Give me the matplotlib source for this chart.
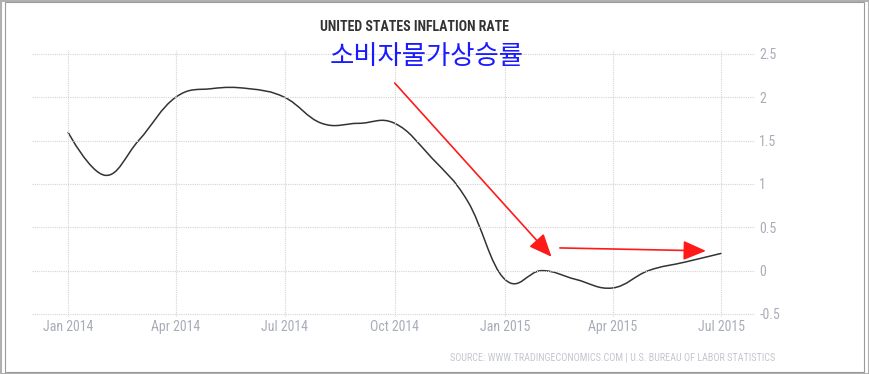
import matplotlib
matplotlib.use("Agg")
import matplotlib.pyplot as plt
import matplotlib.dates as mdates
from matplotlib.path import Path
from matplotlib.patches import PathPatch, Rectangle
from matplotlib import font_manager
import pandas as pd

# monthly US CPI inflation, Jan 2014 - Jul 2015
months = pd.date_range("2014-01-01", "2015-07-01", freq="MS")
inflation = [1.6, 1.1, 1.5, 2.0, 2.1, 2.1, 2.0, 1.7, 1.7, 1.7, 1.3, 0.8,
             -0.1, 0.0, -0.1, -0.2, 0.0, 0.1, 0.2]

tick_dates = pd.to_datetime(["2014-01-01", "2014-04-01", "2014-07-01", "2014-10-01",
                             "2015-01-01", "2015-04-01", "2015-07-01"])
tick_labels = ["Jan 2014", "Apr 2014", "Jul 2014", "Oct 2014",
               "Jan 2015", "Apr 2015", "Jul 2015"]
y_ticks = [-0.5, 0, 0.5, 1, 1.5, 2, 2.5]
y_labels = ["-0.5", "0", "0.5", "1", "1.5", "2", "2.5"]

title = "UNITED STATES INFLATION RATE"
note = "소비자물가상승률"
source = "SOURCE: WWW.TRADINGECONOMICS.COM | U.S. BUREAU OF LABOR STATISTICS"

# arrows drawn on the chart: (start date, start y) -> (end date, end y)
arrows = [
    (("2014-10-01", 2.165), ("2015-02-09", 0.16)),
    (("2015-02-16", 0.262), ("2015-06-18", 0.228)),
]

# pick a narrow font if one is installed
installed = {f.name for f in font_manager.fontManager.ttflist}
narrow = [f for f in ["Liberation Sans Narrow", "DejaVu Sans Condensed", "Roboto Condensed",
                      "Open Sans Condensed"] if f in installed] + ["DejaVu Sans"]
stretch = "normal" if narrow[0] != "DejaVu Sans" else "condensed"
grey = "#a9adb8"


def spline_path(xs, ys, smoothing=1.5):
    # spline through the points, bezier control points from neighbours
    denom = smoothing + 1
    n = len(xs)
    left = [None] * n
    right = [None] * n
    for i in range(1, n - 1):
        px, py = xs[i], ys[i]
        lx, ly = xs[i - 1], ys[i - 1]
        nx, ny = xs[i + 1], ys[i + 1]
        lcx = (smoothing * px + lx) / denom
        lcy = (smoothing * py + ly) / denom
        rcx = (smoothing * px + nx) / denom
        rcy = (smoothing * py + ny) / denom
        corr = (rcy - lcy) * (rcx - px) / (rcx - lcx) + py - rcy
        left[i] = (lcx, lcy + corr)
        right[i] = (rcx, rcy + corr)
    verts = [(xs[0], ys[0])]
    codes = [Path.MOVETO]
    for i in range(1, n):
        c1 = right[i - 1] if right[i - 1] else (xs[i - 1], ys[i - 1])
        c2 = left[i] if left[i] else (xs[i], ys[i])
        verts += [c1, c2, (xs[i], ys[i])]
        codes += [Path.CURVE4] * 3
    return Path(verts, codes)


fig = plt.figure(figsize=(8.69, 3.74), dpi=100)
ax = fig.add_axes([32 / 869, 1 - 317 / 374, 723 / 869, 267 / 374])

xs = mdates.date2num(months)
ax.add_patch(PathPatch(spline_path(list(xs), inflation), fill=False,
                       edgecolor="#333333", linewidth=1.1))

ax.set_xlim(mdates.date2num(pd.Timestamp("2013-12-02")), mdates.date2num(pd.Timestamp("2015-07-29")))
ax.set_ylim(-0.535, 2.546)

ax.set_xticks(mdates.date2num(tick_dates))
ax.set_xticklabels(tick_labels, family=narrow, fontstretch=stretch, fontsize=10, color=grey)
ax.yaxis.tick_right()
ax.set_yticks(y_ticks)
ax.set_yticklabels(y_labels, family=narrow, fontstretch=stretch, fontsize=10, color=grey)
ax.tick_params(axis="both", length=0)
ax.tick_params(axis="x", pad=2)
ax.tick_params(axis="y", pad=3)

ax.grid(True, color="#d4d4d4", linestyle=(0, (1, 1)), linewidth=0.8)
for s in ax.spines.values():
    s.set_visible(False)

for (d0, y0), (d1, y1) in arrows:
    ax.annotate("", xy=(mdates.date2num(pd.Timestamp(d1)), y1),
                xytext=(mdates.date2num(pd.Timestamp(d0)), y0),
                arrowprops=dict(arrowstyle="-|>,head_length=1.4,head_width=0.6",
                                color="#ff1a1a", linewidth=1.2, shrinkA=0, shrinkB=0))

fig.text(415 / 869, 1 - 27 / 374, title, ha="center", va="center",
         family=narrow, fontstretch=stretch, fontsize=10, fontweight="bold", color="#333333")
fig.text(427 / 869, 1 - 56 / 374, note, ha="center", va="center",
         family=["Noto Sans CJK KR", "DejaVu Sans"], fontsize=19, color="#1a1aff")
fig.text(775 / 869, 1 - 357 / 374, source, ha="right", va="center",
         family=narrow, fontstretch=stretch, fontsize=7.3, color="#c4c7cf")

# image frame
fig.add_artist(Rectangle((0.5 / 869, 0.5 / 374), 868 / 869, 373 / 374, transform=fig.transFigure,
                         fill=False, edgecolor="#b0b0b0", linewidth=1.5))
fig.add_artist(Rectangle((5 / 869, 2 / 374), 859 / 869, 370 / 374, transform=fig.transFigure,
                         fill=False, edgecolor="#9a9a9a", linewidth=0.8))

fig.savefig("out.png", dpi=100)
